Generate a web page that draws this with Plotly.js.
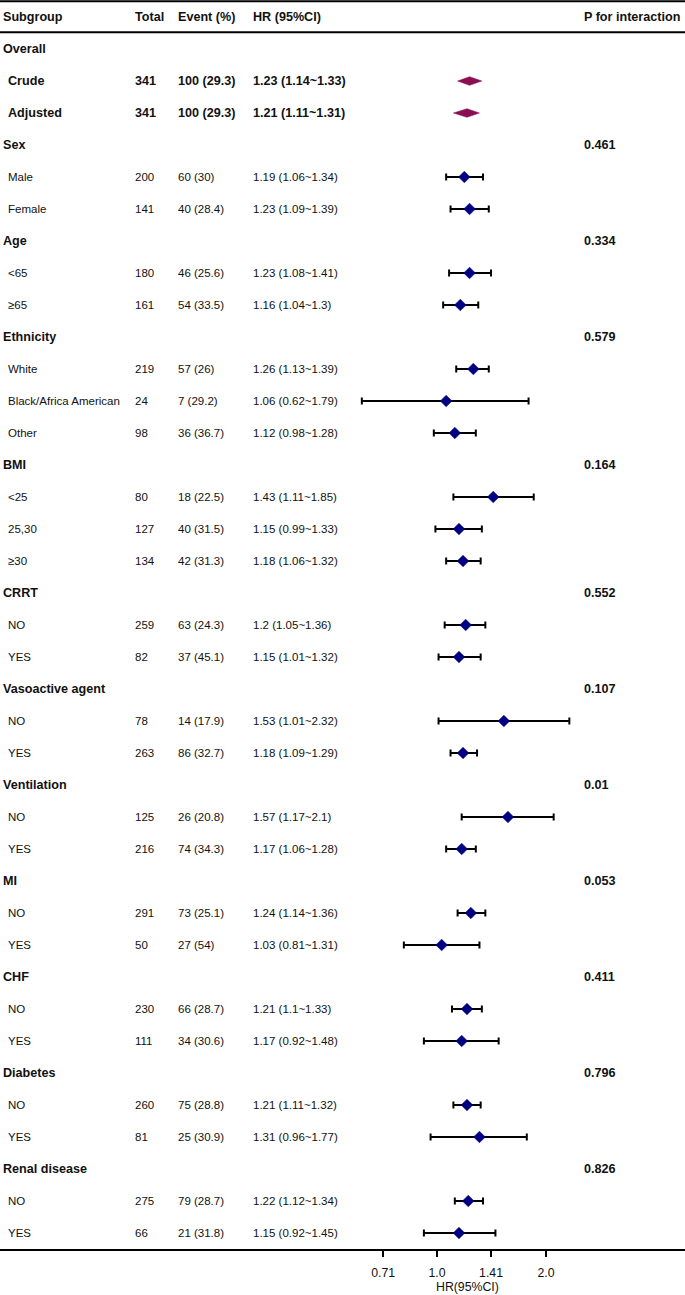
<!DOCTYPE html>
<html>
<head>
<meta charset="utf-8">
<script src="https://cdn.plot.ly/plotly-3.0.1.min.js"></script>
<style>html,body{margin:0;padding:0;background:#fff;}#chart{width:685px;height:1295px;}</style>
</head>
<body>
<div id="chart"></div>
<script>
// ---------------- data ----------------
const columnHeaders = ['Subgroup', 'Total', 'Event (%)', 'HR (95%CI)', 'P for interaction'];
const groups = ['Overall', 'Sex', 'Age', 'Ethnicity', 'BMI', 'CRRT', 'Vasoactive agent',
  'Ventilation', 'MI', 'CHF', 'Diabetes', 'Renal disease'];
const pInteraction = [null, 0.461, 0.334, 0.579, 0.164, 0.552, 0.107, 0.01, 0.053, 0.411, 0.796, 0.826];
const subgroups = [['Crude', 'Adjusted'], ['Male', 'Female'], ['<65', '≥65'],
  ['White', 'Black/Africa American', 'Other'], ['<25', '25,30', '≥30'], ['NO', 'YES'], ['NO', 'YES'],
  ['NO', 'YES'], ['NO', 'YES'], ['NO', 'YES'], ['NO', 'YES'], ['NO', 'YES']];
const totals = [[341, 341], [200, 141], [180, 161], [219, 24, 98], [80, 127, 134], [259, 82], [78, 263],
  [125, 216], [291, 50], [230, 111], [260, 81], [275, 66]];
const events = [[100, 100], [60, 40], [46, 54], [57, 7, 36], [18, 40, 42], [63, 37], [14, 86],
  [26, 74], [73, 27], [66, 34], [75, 25], [79, 21]];
const eventPct = [[29.3, 29.3], [30, 28.4], [25.6, 33.5], [26, 29.2, 36.7], [22.5, 31.5, 31.3], [24.3, 45.1],
  [17.9, 32.7], [20.8, 34.3], [25.1, 54], [28.7, 30.6], [28.8, 30.9], [28.7, 31.8]];
const hr = [[1.23, 1.21], [1.19, 1.23], [1.23, 1.16], [1.26, 1.06, 1.12], [1.43, 1.15, 1.18], [1.2, 1.15],
  [1.53, 1.18], [1.57, 1.17], [1.24, 1.03], [1.21, 1.17], [1.21, 1.31], [1.22, 1.15]];
const ciLow = [[1.14, 1.11], [1.06, 1.09], [1.08, 1.04], [1.13, 0.62, 0.98], [1.11, 0.99, 1.06], [1.05, 1.01],
  [1.01, 1.09], [1.17, 1.06], [1.14, 0.81], [1.1, 0.92], [1.11, 0.96], [1.12, 0.92]];
const ciHigh = [[1.33, 1.31], [1.34, 1.39], [1.41, 1.3], [1.39, 1.79, 1.28], [1.85, 1.33, 1.32], [1.36, 1.32],
  [2.32, 1.29], [2.1, 1.28], [1.36, 1.31], [1.33, 1.48], [1.32, 1.77], [1.34, 1.45]];
const tickVals = [0.71, 1.0, 1.41, 2.0];
const tickText = ['0.71', '1.0', '1.41', '2.0'];
const axisTitle = 'HR(95%CI)';
const refHR = 1;

// ---------------- layout helpers ----------------
const W = 685, H = 1295;
const colX = [1, 133, 176, 251, 582];
const subIndent = 6;
const FONT = 'Liberation Sans, Arial, Helvetica, sans-serif';
const BOLD = 12.6, REG = 11.5, AXF = 12.3;
const txtColor = '#111';

const annotations = [];
function addText(txt, px, row, bold, size) {
  annotations.push({
    text: bold ? '<b>' + txt + '</b>' : txt,
    xref: 'paper', yref: 'y', x: px / W, y: row,
    xanchor: 'left', yanchor: 'middle', showarrow: false,
    font: {family: FONT, size: size, color: txtColor}
  });
}

columnHeaders.forEach((h, i) => addText(h, colX[i], 0, true, BOLD));

const ptX = [], ptY = [], ptPlus = [], ptMinus = [];
const pooled = [];
let row = 1;
groups.forEach((g, gi) => {
  addText(g, colX[0], row, true, BOLD);
  if (pInteraction[gi] !== null) addText(String(pInteraction[gi]), colX[4], row, true, BOLD);
  row++;
  subgroups[gi].forEach((s, si) => {
    const isPooled = gi === 0;
    const sz = isPooled ? BOLD : REG;
    addText(s, subIndent, row, isPooled, sz);
    addText(String(totals[gi][si]), colX[1], row, isPooled, sz);
    addText(events[gi][si] + ' (' + eventPct[gi][si] + ')', colX[2], row, isPooled, sz);
    addText(hr[gi][si] + ' (' + ciLow[gi][si] + '~' + ciHigh[gi][si] + ')', colX[3], row, isPooled, sz);
    if (isPooled) {
      pooled.push({row: row, hr: hr[gi][si], lo: ciLow[gi][si], hi: ciHigh[gi][si]});
    } else {
      ptX.push(hr[gi][si]); ptY.push(row);
      ptPlus.push(ciHigh[gi][si] - hr[gi][si]);
      ptMinus.push(hr[gi][si] - ciLow[gi][si]);
    }
    row++;
  });
});

const traces = [];
const dh = 0.135;
pooled.forEach(p => {
  traces.push({
    type: 'scatter', mode: 'lines', fill: 'toself', fillcolor: '#8b0d52',
    x: [p.lo, p.hr, p.hi, p.hr, p.lo], y: [p.row, p.row - dh, p.row, p.row + dh, p.row],
    line: {color: '#8b0d52', width: 0.5}, hoverinfo: 'skip', showlegend: false
  });
});
traces.push({
  type: 'scatter', mode: 'markers', x: ptX, y: ptY,
  marker: {symbol: 'diamond', size: 9, color: '#000080', line: {color: '#000080', width: 0.5}},
  error_x: {type: 'data', symmetric: false, array: ptPlus, arrayminus: ptMinus,
    color: '#000', thickness: 2, width: 3.5},
  showlegend: false, hoverinfo: 'skip'
});

// pixel mapping: row r at y = 17 + 32 r ; plot area bottom at 1249
const plotBottom = 1249;
const yTop = -17 / 32, yBot = (plotBottom - 17) / 32;
// x: HR=1 at px 437, 109 px per log2 unit
const pxRef = 437, pxPerLog2 = 109;
const xr0 = (-pxRef / pxPerLog2) * Math.LOG10E * Math.LN2;
const xr1 = ((W - pxRef) / pxPerLog2) * Math.LOG10E * Math.LN2;

// axis title centred under the tick span (geometric middle of 1.0 and 1.41)
annotations.push({
  text: axisTitle, xref: 'x', yref: 'paper',
  x: Math.log10(Math.sqrt(tickVals[1] * tickVals[2])) + 0.01, y: -(1287 - plotBottom) / plotBottom,
  xanchor: 'center', yanchor: 'middle', showarrow: false,
  font: {family: FONT, size: AXF, color: txtColor}
});

const shapes = [
  {type: 'line', xref: 'paper', yref: 'y', x0: 0, x1: 1, y0: yTop + 1.2 / 32, y1: yTop + 1.2 / 32, line: {color: '#000', width: 2}},
  {type: 'line', xref: 'paper', yref: 'y', x0: 0, x1: 1, y0: 0.48, y1: 0.48, line: {color: '#000', width: 2}},
  {type: 'line', xref: 'x', yref: 'y', x0: Math.log10(refHR), x1: Math.log10(refHR), y0: 1.47, y1: yBot,
    line: {color: '#bdbdbd', width: 1.2}, layer: 'below'}
];

const layout = {
  width: W, height: H,
  margin: {l: 0, r: 0, t: 0, b: H - plotBottom, pad: 0},
  paper_bgcolor: '#fff', plot_bgcolor: '#fff',
  showlegend: false,
  xaxis: {
    type: 'log', range: [xr0, xr1], domain: [0, 1],
    showgrid: false, zeroline: false, showline: true, linecolor: '#000', linewidth: 2,
    ticks: 'outside', ticklen: 6, tickwidth: 1.5, tickcolor: '#000',
    tickvals: tickVals, ticktext: tickText, ticklabelstandoff: 5,
    tickfont: {family: FONT, size: AXF, color: txtColor},
    automargin: false, fixedrange: true
  },
  yaxis: {range: [yBot, yTop], visible: false, showgrid: false, zeroline: false, fixedrange: true},
  annotations: annotations,
  shapes: shapes
};

Plotly.newPlot('chart', traces, layout, {displayModeBar: false, staticPlot: true});
</script>
</body>
</html>
